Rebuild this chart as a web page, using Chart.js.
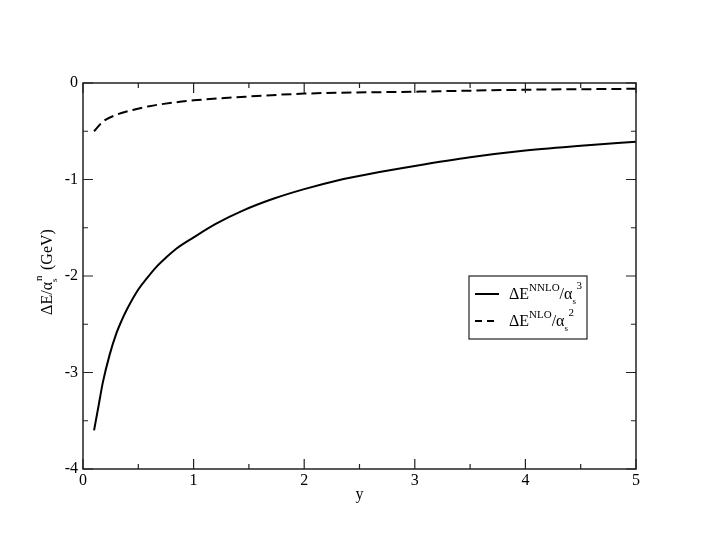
<!DOCTYPE html>
<html>
<head>
<meta charset="utf-8">
<script src="https://cdn.jsdelivr.net/npm/chart.js@4/dist/chart.umd.min.js"></script>
<style>
  html, body { margin: 0; padding: 0; background: #fff; }
  #wrap { width: 715px; height: 553px; }
</style>
</head>
<body>
<div id="wrap"><canvas id="c" width="715" height="553"></canvas></div>
<script>
// 그래프 값
const nnloX = [0.1, 0.14, 0.18, 0.24, 0.3, 0.35, 0.4, 0.5, 0.58, 0.66, 0.75, 0.84, 1.0, 1.2, 1.45, 1.72, 2.0, 2.3, 2.6, 3.0, 3.5, 4.0, 4.5, 5.0];
const nnloY = [-3.60, -3.35, -3.10, -2.82, -2.60, -2.46, -2.34, -2.14, -2.02, -1.91, -1.81, -1.72, -1.60, -1.46, -1.32, -1.20, -1.10, -1.01, -0.94, -0.86, -0.77, -0.70, -0.65, -0.61];
const nloX = [0.1, 0.18, 0.3, 0.45, 0.6, 0.84, 1.0, 1.5, 2.0, 3.0, 4.0, 5.0];
const nloY = [-0.50, -0.40, -0.33, -0.28, -0.24, -0.20, -0.18, -0.14, -0.11, -0.09, -0.07, -0.06];
const xRange = [0, 5];
const yRange = [-4, 0];

const SERIF = "'Liberation Serif', 'DejaVu Serif', serif";
const toPoints = (xs, ys) => xs.map((x, i) => ({ x, y: ys[i] }));

// 틀, 안쪽 눈금, 축 이름, 범례를 직접 그린다 (위·아래첨자 때문에)
const framePlugin = {
  id: "frame",
  afterDraw(chart) {
    const { ctx, chartArea: a, scales } = chart;
    ctx.save();
    ctx.strokeStyle = "#222";
    ctx.lineWidth = 1.5;
    ctx.setLineDash([]);
    ctx.strokeRect(a.left, a.top, a.right - a.left, a.bottom - a.top);

    ctx.lineWidth = 1.2;
    scales.x.ticks.forEach((t) => {
      const px = scales.x.getPixelForValue(t.value);
      const len = Number.isInteger(t.value) ? 10 : 5;
      ctx.beginPath();
      ctx.moveTo(px, a.bottom); ctx.lineTo(px, a.bottom - len);
      ctx.moveTo(px, a.top); ctx.lineTo(px, a.top + len);
      ctx.stroke();
    });
    scales.y.ticks.forEach((t) => {
      const py = scales.y.getPixelForValue(t.value);
      const len = Number.isInteger(t.value) ? 10 : 5;
      ctx.beginPath();
      ctx.moveTo(a.left, py); ctx.lineTo(a.left + len, py);
      ctx.moveTo(a.right, py); ctx.lineTo(a.right - len, py);
      ctx.stroke();
    });

    ctx.fillStyle = "#000";
    ctx.textBaseline = "alphabetic";
    // x축 이름
    ctx.font = `16px ${SERIF}`;
    ctx.textAlign = "center";
    ctx.fillText("y", (a.left + a.right) / 2, 499);

    // y축 이름: ΔE/α_s^n (GeV)
    ctx.save();
    ctx.translate(52, 272);
    ctx.rotate(-Math.PI / 2);
    ctx.textAlign = "left";
    ctx.font = `16px ${SERIF}`;
    const w0 = ctx.measureText("\u0394E/\u03b1").width;
    const w3 = ctx.measureText(" (GeV)").width;
    ctx.font = `10px ${SERIF}`;
    const w1 = Math.max(ctx.measureText("s").width, ctx.measureText("n").width) + 3;
    let x = -(w0 + w1 + w3) / 2;
    ctx.font = `16px ${SERIF}`; ctx.fillText("\u0394E/\u03b1", x, 0); x += w0;
    ctx.font = `9px ${SERIF}`; ctx.fillText("s", x, 5);
    ctx.font = `11px ${SERIF}`; ctx.fillText("n", x + 1, -10);
    x += w1;
    ctx.font = `16px ${SERIF}`; ctx.fillText(" (GeV)", x, 0);
    ctx.restore();

    // 범례
    ctx.textAlign = "left";
    const bx = 469, by = 276, bw = 118, bh = 63;
    ctx.lineWidth = 1.2;
    ctx.strokeStyle = "#222";
    ctx.strokeRect(bx, by, bw, bh);
    const rows = [
      { sup: "NNLO", pow: "3", dash: [], y: by + 23 },
      { sup: "NLO", pow: "2", dash: [7, 5], y: by + 50 },
    ];
    rows.forEach((r) => {
      ctx.strokeStyle = "#000";
      ctx.lineWidth = 2;
      ctx.setLineDash(r.dash);
      ctx.beginPath();
      ctx.moveTo(bx + 6, r.y - 5); ctx.lineTo(bx + 30, r.y - 5);
      ctx.stroke();
      ctx.setLineDash([]);
      let tx = bx + 40;
      ctx.font = `16px ${SERIF}`;
      ctx.fillText("\u0394E", tx, r.y); tx += ctx.measureText("\u0394E").width;
      ctx.font = `11px ${SERIF}`;
      ctx.fillText(r.sup, tx, r.y - 8); tx += ctx.measureText(r.sup).width;
      ctx.font = `16px ${SERIF}`;
      ctx.fillText("/\u03b1", tx, r.y); tx += ctx.measureText("/\u03b1").width;
      ctx.font = `9px ${SERIF}`;
      ctx.fillText("s", tx, r.y + 5);
      ctx.font = `11px ${SERIF}`;
      ctx.fillText(r.pow, tx + 4, r.y - 10);
    });
    ctx.restore();
  },
};

new Chart(document.getElementById("c"), {
  type: "scatter",
  data: {
    datasets: [
      {
        label: "NNLO",
        data: toPoints(nnloX, nnloY),
        showLine: true,
        borderColor: "#000",
        borderWidth: 2,
        pointRadius: 0,
        cubicInterpolationMode: "monotone",
      },
      {
        label: "NLO",
        data: toPoints(nloX, nloY),
        showLine: true,
        borderColor: "#000",
        borderWidth: 2,
        borderDash: [10, 5],
        pointRadius: 0,
        cubicInterpolationMode: "monotone",
      },
    ],
  },
  options: {
    responsive: false,
    animation: false,
    layout: { padding: { top: 83, right: 79, left: 0, bottom: 0 } },
    plugins: { legend: { display: false }, tooltip: { enabled: false } },
    scales: {
      x: {
        type: "linear",
        min: xRange[0], max: xRange[1],
        ticks: {
          stepSize: 0.5,
          autoSkip: false,
          maxRotation: 0,
          padding: 2,
          color: "#000",
          font: { family: SERIF, size: 16 },
          callback: (v) => (Number.isInteger(v) ? String(v) : ""),
        },
        grid: { display: false, drawTicks: false },
        border: { display: false },
        afterFit: (s) => { s.height = 84; },
      },
      y: {
        type: "linear",
        min: yRange[0], max: yRange[1],
        ticks: {
          stepSize: 0.5,
          autoSkip: false,
          padding: 5,
          color: "#000",
          font: { family: SERIF, size: 16 },
          callback: (v) => (Number.isInteger(v) ? String(v) : ""),
        },
        grid: { display: false, drawTicks: false },
        border: { display: false },
        afterFit: (s) => { s.width = 83; },
      },
    },
  },
  plugins: [framePlugin],
});
</script>
</body>
</html>
